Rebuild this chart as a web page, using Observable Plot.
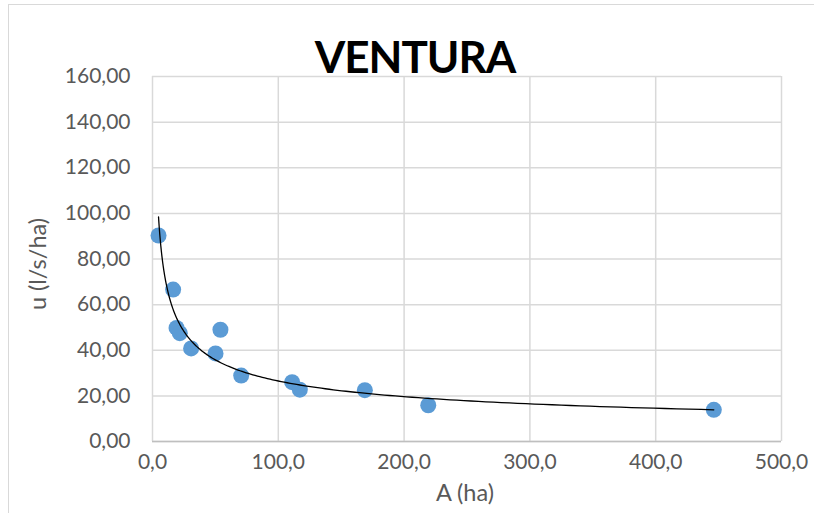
<!DOCTYPE html>
<html>
<head>
<meta charset="utf-8">
<script src="https://cdn.jsdelivr.net/npm/d3@7"></script>
<script src="https://cdn.jsdelivr.net/npm/@observablehq/plot@0.6"></script>
<style>
  html, body { margin: 0; padding: 0; background: #fff; }
  #wrap { position: relative; width: 814px; height: 513px; overflow: hidden; font-family: Lato, "Open Sans", sans-serif; }
  #frame { position: absolute; left: 8px; top: 4px; width: 820px; height: 520px; border: 1.5px solid #d9d9d9; box-sizing: border-box; }
  #title { position: absolute; left: 0; width: 830px; top: 30px; text-align: center; font-size: 44px; font-weight: 700; color: #000; letter-spacing: -1px; }
  #chart { position: absolute; left: 0; top: 0; }
  .axis-title { position: absolute; font-size: 23.5px; color: #595959; white-space: nowrap; line-height: 1; }
  #xtitle { left: 465px; top: 481px; transform: translateX(-50%); }
  #ytitle { left: 38px; top: 264px; transform: translate(-50%, -50%) rotate(-90deg); }
</style>
</head>
<body>
<div id="wrap">
  <div id="frame"></div>
  <div id="chart"></div>
  <div id="title">VENTURA</div>
  <div class="axis-title" id="xtitle">A (ha)</div>
  <div class="axis-title" id="ytitle">u (l/s/ha)</div>
</div>
<script>
// Catchment area A (ha) and unit discharge u (l/s/ha)
const area = [4.8, 16.4, 19.1, 21.7, 30.7, 50.1, 54.0, 70.5, 111.0, 117.1, 168.8, 219.2, 446.2];
const unitFlow = [90.3, 66.6, 49.8, 47.5, 40.8, 38.6, 49.0, 28.9, 26.0, 22.7, 22.5, 15.9, 13.9];

const xTicks = [0, 100, 200, 300, 400, 500];
const yTicks = [0, 20, 40, 60, 80, 100, 120, 140, 160];

const points = area.map((a, i) => ({a, u: unitFlow[i]}));

// Power trendline u = c * A^b, least squares in log-log space
const lx = area.map(Math.log), ly = unitFlow.map(Math.log);
const mx = d3.mean(lx), my = d3.mean(ly);
const b = d3.sum(lx, (v, i) => (v - mx) * (ly[i] - my)) / d3.sum(lx, v => (v - mx) ** 2);
const c = Math.exp(my - b * mx);
const [amin, amax] = d3.extent(area);
const trend = d3.range(0, 201).map(k => {
  const a = amin * Math.pow(amax / amin, k / 200);
  return {a, u: c * Math.pow(a, b)};
});

const loc = d3.formatLocale({decimal: ",", thousands: ".", grouping: [3], currency: ["", ""]});
const fmtY = loc.format(".2f");
const fmtX = loc.format(".1f");

const chart = Plot.plot({
  width: 814,
  height: 513,
  marginLeft: 152,
  marginRight: 33,
  marginTop: 76,
  marginBottom: 72,
  style: {fontFamily: "Lato, 'Open Sans', sans-serif", fontSize: "21px", color: "#595959", background: "transparent"},
  x: {domain: [0, 500], label: null},
  y: {domain: [0, 160], label: null},
  marks: [
    Plot.gridX(xTicks, {stroke: "#d9d9d9", strokeOpacity: 1, strokeWidth: 1.5}),
    Plot.gridY(yTicks, {stroke: "#d9d9d9", strokeOpacity: 1, strokeWidth: 1.5}),
    Plot.ruleY([0], {stroke: "#bfbfbf", strokeWidth: 1.5}),
    Plot.axisX(xTicks, {tickFormat: fmtX, tickSize: 0, tickPadding: 13, label: null, fill: "#595959"}),
    Plot.axisY(yTicks, {tickFormat: fmtY, tickSize: 0, tickPadding: 22, label: null, fill: "#595959"}),
    Plot.dot(points, {x: "a", y: "u", r: 8, fill: "#5b9bd5", stroke: "none"}),
    Plot.line(trend, {x: "a", y: "u", stroke: "#000", strokeWidth: 1.3})
  ]
});
document.getElementById("chart").append(chart);
</script>
</body>
</html>
